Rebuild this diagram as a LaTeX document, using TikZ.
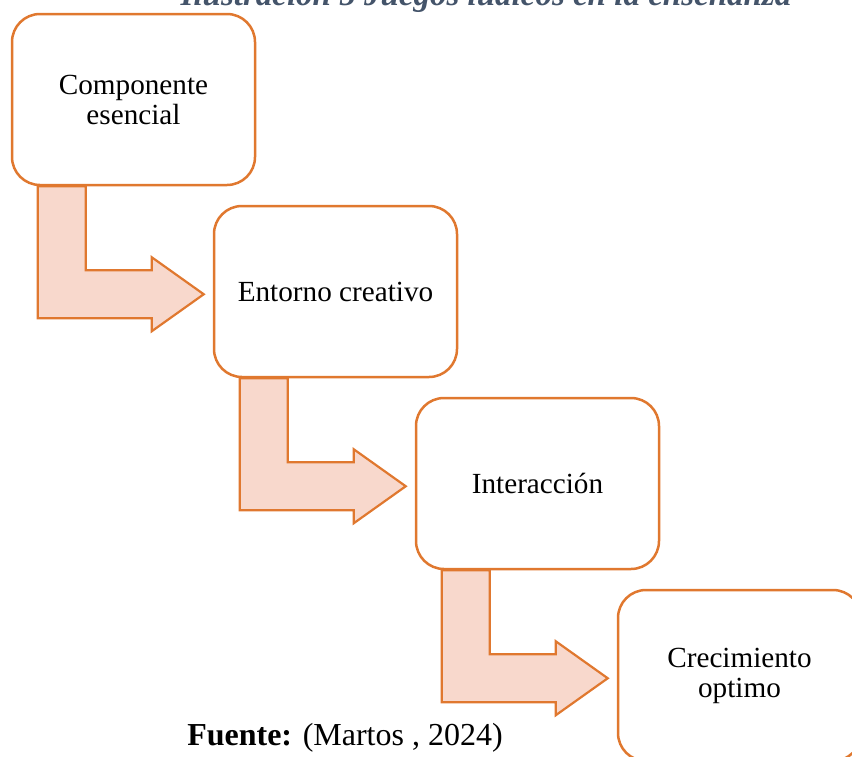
\documentclass[tikz,border=0pt]{standalone}
\usepackage{fontspec}
\setmainfont{Liberation Serif}
\usepackage{tikz}
\usetikzlibrary{calc}
\usetikzlibrary{positioning}
\definecolor{boxline}{HTML}{E0782F}
\definecolor{arrowfill}{HTML}{F8D8CC}
\definecolor{titleblue}{HTML}{44546A}
\tikzstyle{stage} = [rectangle, draw = boxline, line width = 1.25pt, rounded corners = 14pt, fill = white, minimum width = 121.5pt, minimum height = 85.5pt, align = center, inner sep = 0, font = \fontsize{14.6}{15}\selectfont]
\tikzstyle{elbow} = [draw = boxline, fill = arrowfill, line width = 1.1pt, line join = miter]

\begin{document}
\begin{tikzpicture}[x = 0.5pt, y = -0.5pt]
\useasboundingbox (0, 0) rectangle (852, 756);
\node [font = \fontsize{16.5}{18}\selectfont\bfseries\itshape, text = titleblue, anchor = base] (T) at (486, 5) {Ilustración 5 Juegos lúdicos en la enseñanza};
\node [stage] (C) at (133.5, 99.5) {Componente\\esencial};
\node [stage] (E) at (335.5, 291.5) {Entorno creativo};
\node [stage] (I) at (537.5, 483.5) {Interacción};
\node [stage] (O) at (739.5, 675.5) {Crecimiento\\optimo};
\foreach \a in {C, E, I} {
  \draw [elbow, shift = {(\a.south west)}] (27, 0) -- (27, 132) -- (141, 132) -- (141, 145) -- (193, 108) -- (141, 71) -- (141, 84) -- (75, 84) -- (75, 0) -- cycle;
}
\node [font = \fontsize{16}{18}\selectfont, anchor = base] (F) at (345, 745) {\textbf{Fuente:} (Martos , 2024)};
\end{tikzpicture}
\end{document}
